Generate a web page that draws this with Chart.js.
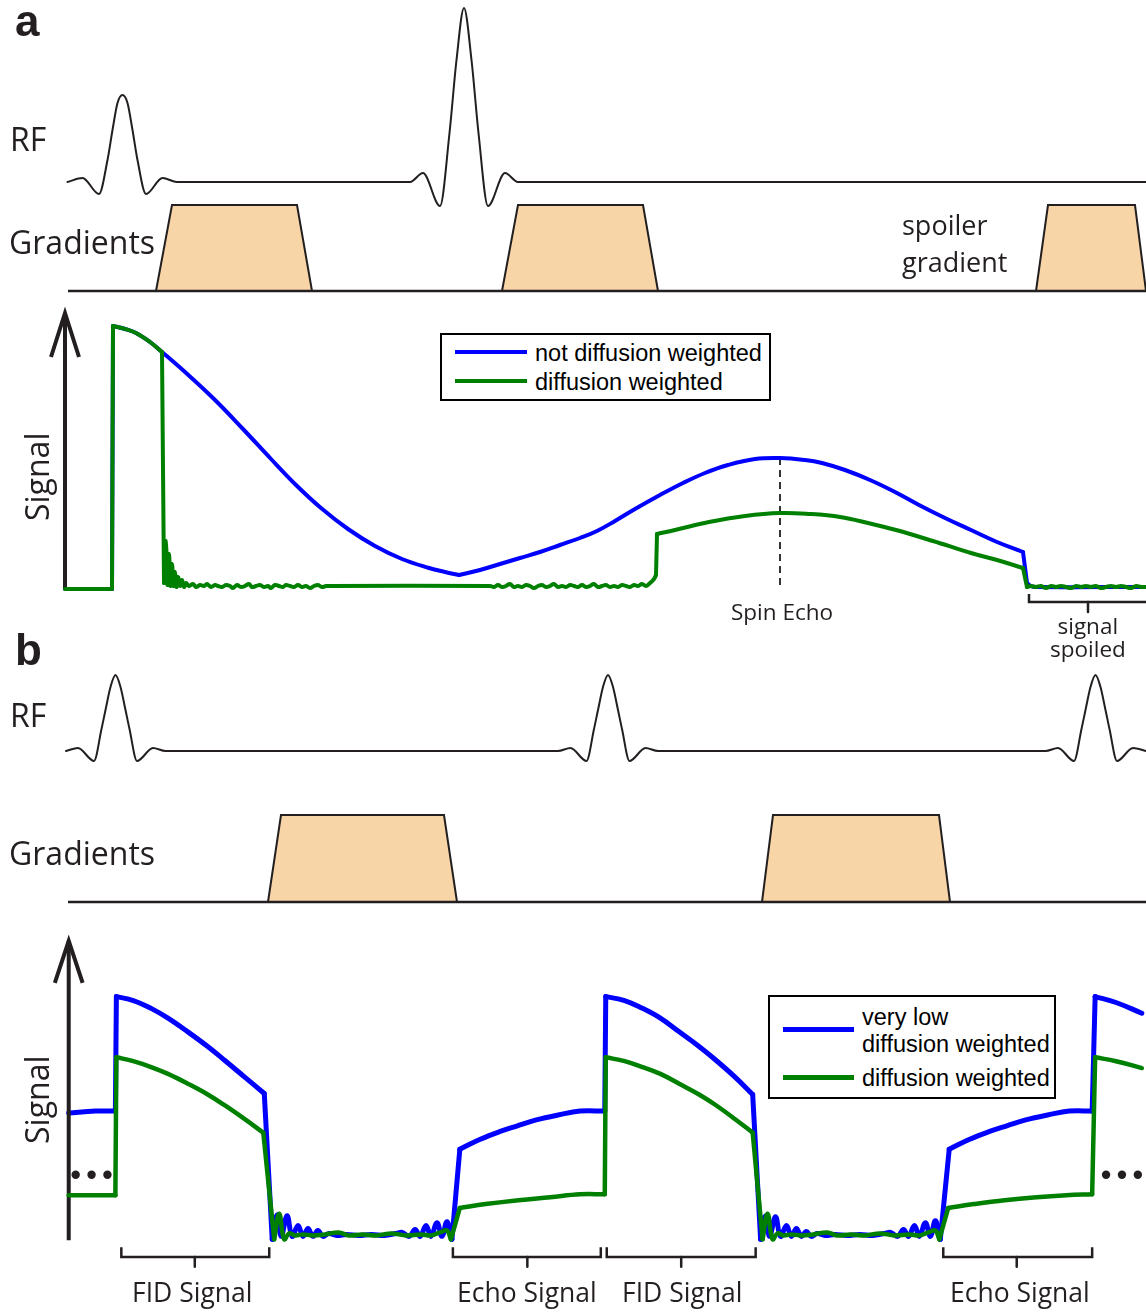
<!DOCTYPE html>
<html>
<head>
<meta charset="utf-8">
<script src="https://cdn.jsdelivr.net/npm/chart.js@4.4.1/dist/chart.umd.min.js"></script>
<style>
  html, body { margin: 0; padding: 0; background: #fff; }
  #fig { position: relative; width: 1146px; height: 1312px; overflow: hidden; }
  .strip { position: absolute; left: 0; }
  .lbl { position: absolute; white-space: nowrap; line-height: normal; color: #231f20;
         font-family: "Open Sans", sans-serif; }
  .key { position: absolute; box-sizing: border-box; border: 2px solid #000; background: #fff; }
  .swatch { position: absolute; }
</style>
</head>
<body>
<div id="fig"></div>
<script>
// time runs left to right, t = 0 sits on the signal axis
const T_MIN = -65, T_MAX = 1081;
// a third entry of 1 marks a sharp corner (jump / kink) in a trace

// ---- a: spin echo ----
// RF: 90 deg and 180 deg sinc pulses, [t, amplitude]
const rfA = [
  [2.5, 0], [17.5, 4], [34, -12], [42.5, 22], [47.5, 52], [52.5, 79], [57.5, 87],
  [62.5, 79], [67.5, 52], [72.5, 22], [81, -12], [97.5, 4], [112, 0],
  [345, 0], [358, 9], [375, -24], [384.5, 49], [391.5, 122], [399, 174],
  [406.5, 122], [413.5, 49], [423, -24], [440, 9], [453, 0], [1081, 0]
];
// gradient lobes, [t, amplitude]
const gradABase = [[3, 0], [1081, 0]];
const gradA1 = [[91, 0], [107, 86], [232, 86], [247, 0]];
const gradA2 = [[437, 0], [453, 86], [578, 86], [593, 0]];
const gradA3 = [[971, 0], [983, 86], [1070, 86], [1081, 0]];

// signal, not diffusion weighted
const sigA_plain = [
  [0, 0], [47, 0, 1], [48, 263, 1], [60, 260], [71, 256], [85, 247], [97, 237],
  [120, 217], [149, 190], [178, 160], [206, 130], [231, 104], [256, 81], [283, 60],
  [310, 43], [337, 30], [364, 21], [380, 17], [394, 14, 1], [415, 19], [435, 25],
  [455, 31], [475, 37], [495, 44], [515, 51], [532, 58], [550, 68], [570, 80],
  [595, 94], [618, 106], [640, 116], [663, 124], [690, 130], [715, 131], [740, 129],
  [757, 126], [780, 119], [805, 109], [830, 97], [854, 84], [880, 71], [906, 59],
  [932, 47], [958, 37, 1], [962, 6, 1], [966, 3], [970, 2], [1081, 2]
];
// signal, diffusion weighted (FID, dephased noise, weaker echo)
const sigA_dwFid = [
  [0, 0], [47, 0, 1], [48, 263, 1], [60, 260], [71, 256], [85, 247], [97, 237, 1], [99, 6, 1],
  [101, 48], [102.5, 4], [104, 35], [105.5, 3], [107, 25], [108.5, 3], [110, 17],
  [111.5, 2], [113, 12], [115, 3], [117, 9], [119, 2], [121, 6]
];
const sigA_dwNoise1 = [
  [124, 3], [128, 5], [131, 2], [135, 4], [139, 3], [142, 5], [146, 2], [150, 4],
  [153, 3], [157, 2], [161, 4], [165, 3], [168, 1], [172, 4], [176, 2], [180, 3],
  [184, 5], [187, 2], [191, 3], [195, 4], [199, 2], [203, 3], [206, 1], [210, 4],
  [214, 3], [218, 2], [221, 4], [225, 3], [229, 2], [233, 4], [237, 2], [241, 3],
  [245, 1], [249, 3], [253, 4], [257, 2], [261, 3], [265, 3]
];
const sigA_dwNoise2 = [
  [425, 3], [429, 2], [433, 4], [437, 2], [441, 3], [445, 5], [449, 2], [453, 3],
  [457, 2], [461, 4], [465, 3], [469, 1], [473, 3], [477, 4], [481, 2], [485, 3],
  [489, 5], [493, 2], [497, 3], [501, 2], [505, 4], [509, 3], [513, 2], [517, 4],
  [521, 2], [525, 3], [529, 5], [533, 2], [537, 3], [541, 4], [545, 2], [549, 3],
  [553, 2], [557, 4], [561, 3], [565, 2], [569, 4], [573, 3], [577, 5], [581, 3],
  [585, 6], [589, 10], [591, 14, 1]
];
const sigA_dwEcho = [
  [592, 55, 1], [610, 59], [644, 67], [680, 73], [715, 76], [745, 75], [775, 72],
  [803, 66], [831, 59], [868, 48], [906, 36], [932, 29], [958, 21, 1], [962, 2, 1]
];
const sigA_dwNoise3 = [
  [966, 3], [971, 2], [976, 3], [981, 1], [986, 3], [991, 2], [996, 3], [1001, 2],
  [1006, 1], [1011, 3], [1016, 2], [1021, 3], [1026, 2], [1031, 3], [1036, 1],
  [1041, 2], [1046, 3], [1051, 2], [1056, 3], [1061, 2], [1066, 1], [1071, 3],
  [1076, 2], [1081, 2]
];
const echoTimeA = 715;

// ---- b: steady state, FID and echo ----
const rfB = [
  [1, 0], [13, 3], [29, -10], [36.5, 22], [40.5, 41], [45.5, 64], [50.5, 76],
  [55.5, 64], [60.5, 41], [64.5, 22], [72, -10], [88, 3], [100.5, 0],
  [493, 0], [505.5, 3], [521.5, -10], [529, 22], [533, 41], [538, 64], [543, 76],
  [548, 64], [553, 41], [557, 22], [564.5, -10], [580.5, 3], [593, 0],
  [980.5, 0], [993, 3], [1009, -10], [1016.5, 22], [1020.5, 41], [1025.5, 64],
  [1030.5, 76], [1035.5, 64], [1040.5, 41], [1044.5, 22], [1052, -10], [1068, 3],
  [1081, 0]
];
const gradBBase = [[3, 0], [1081, 0]];
const gradB1 = [[203, 0], [216, 87], [379, 87], [392, 0]];
const gradB2 = [[697, 0], [708, 87], [874, 87], [885, 0]];

// very low diffusion weighting
const sigB_low = [
  [0, 127], [27, 129], [47, 129, 1], [48, 246, 1], [65, 242], [83, 234], [100, 224],
  [120, 210], [140, 195], [157, 181], [177, 164], [197, 147, 1], [205, -2, 1], [210, 23],
  [214, 1], [220, 22], [225, 1], [231, 12], [236, 1], [241, 9], [246, 1], [251, 7],
  [256, 1], [262, 4], [270, 2], [280, 3], [292, 2], [305, 3], [318, 2], [330, 4],
  [336, 5], [343, 1], [349, 8], [354, 1], [360, 12], [365, 1], [371, 15], [376, 1],
  [381, 16], [386, -2, 1], [394, 90, 1], [414, 100], [434, 108], [452, 114], [471, 120],
  [493, 125], [515, 129], [540, 129, 1], [541, 246, 1], [560, 242], [578, 234], [596, 224],
  [615, 210], [635, 195], [652, 181], [671, 164], [689, 146, 1], [697, -2, 1], [702, 22],
  [706, 1], [712, 21], [717, 1], [723, 12], [728, 1], [733, 9], [738, 1], [743, 6],
  [748, 1], [754, 4], [762, 2], [772, 3], [784, 2], [797, 3], [810, 2], [822, 4],
  [828, 5], [835, 1], [841, 8], [846, 1], [852, 12], [857, 1], [863, 15], [868, 1],
  [873, 17], [878, -2, 1], [887, 90, 1], [907, 100], [927, 108], [945, 114], [964, 120],
  [986, 125], [1008, 129], [1031, 129, 1], [1034, 246, 1], [1055, 240], [1081, 229]
];
// diffusion weighted
const sigB_dw = [
  [0, 43], [47, 43, 1], [48, 184, 1], [65, 180], [83, 174], [100, 167], [120, 157],
  [140, 146], [157, 135], [177, 121], [196, 107, 1], [207, -2, 1], [212, 24], [217, -2],
  [222, 4], [228, 2], [236, 3], [246, 2], [258, 3], [272, 5], [282, 2], [296, 3],
  [310, 2], [325, 4], [340, 2], [355, 3], [365, 2], [374, 5], [381, 7], [385, -2, 1],
  [394, 30, 1], [420, 34], [453, 38], [485, 41], [515, 44], [540, 44, 1], [541, 184, 1],
  [560, 180], [578, 174], [596, 167], [615, 157], [635, 146], [652, 135], [671, 121],
  [689, 107, 1], [699, -2, 1], [704, 24], [709, -2], [714, 4], [720, 2], [728, 3], [738, 2],
  [750, 3], [764, 5], [774, 2], [788, 3], [802, 2], [817, 4], [832, 2], [847, 3],
  [857, 2], [866, 5], [873, 7], [877, -2, 1], [886, 30, 1], [912, 34], [943, 38],
  [975, 41], [1005, 43], [1031, 44, 1], [1034, 184, 1], [1055, 180], [1081, 173]
];
// readout windows: [start, end, centre]
const windowsB = [[53, 202, 127], [387, 536, 462], [542, 692, 617], [881, 1031, 955]];
const windowLabelsB = ["FID Signal", "Echo Signal", "FID Signal", "Echo Signal"];

const INK = "#231f20", BLUE = "#0000ff", GREEN = "#008000", PEACH = "#f8d5a6";
const fig = document.getElementById("fig");

function pts(list) {
  return list.map(([x, y]) => ({ x, y }));
}

function line(list, color, width, extra) {
  return Object.assign({
    data: pts(list), borderColor: color, borderWidth: width, pointRadius: 0,
    fill: false, clip: false, tension: 0, borderJoinStyle: "round", borderCapStyle: "round"
  }, extra || {});
}

// smooth trace, broken into separate pieces at the marked corners
function trace(list, color, width, extra) {
  const pieces = [];
  let cur = [];
  list.forEach(p => {
    cur.push(p);
    if (p[2] && cur.length > 1) {
      pieces.push(cur);
      cur = [p];
    }
  });
  if (cur.length > 1) pieces.push(cur);
  return pieces.map(s => line(s, color, width, Object.assign({ tension: 0.4 }, extra || {})));
}

function pulse(list) {
  return line(list, INK, 2, { cubicInterpolationMode: "monotone" });
}

function lobe(list) {
  return line(list, INK, 2, { fill: { value: 0 }, backgroundColor: PEACH, borderJoinStyle: "miter", order: 2 });
}

function arrow(top, bottom, wing) {
  return [
    line([[0, bottom], [0, top]], INK, 4, { borderCapStyle: "butt" }),
    line([[-14, top - wing], [0, top], [14, top - wing]], INK, 4, { borderJoinStyle: "miter", borderCapStyle: "butt" })
  ];
}

function bracket(a, b, c, y0, y1, y2) {
  return [
    line([[a, y0], [a, y1], [b, y1], [b, y0]], INK, 2.5, { borderJoinStyle: "miter", borderCapStyle: "butt" }),
    line([[c, y1], [c, y2]], INK, 2.5, { borderCapStyle: "butt" })
  ];
}

// one horizontal strip of the sequence diagram
function strip(top, height, yMin, yMax, datasets) {
  const c = document.createElement("canvas");
  c.width = 1146;
  c.height = height;
  c.className = "strip";
  c.style.top = top + "px";
  fig.appendChild(c);
  new Chart(c, {
    type: "line",
    data: { datasets },
    options: {
      responsive: false,
      animation: false,
      events: [],
      layout: { padding: 0 },
      plugins: { legend: { display: false }, tooltip: { enabled: false } },
      scales: {
        x: { type: "linear", min: T_MIN, max: T_MAX, display: false },
        y: { type: "linear", min: yMin, max: yMax, display: false }
      }
    }
  });
}

function label(text, x, y, opt) {
  opt = opt || {};
  const el = document.createElement("div");
  el.className = "lbl";
  el.style.fontSize = (opt.size || 32) + "px";
  if (opt.family) el.style.fontFamily = opt.family;
  if (opt.weight) el.style.fontWeight = opt.weight;
  if (opt.color) el.style.color = opt.color;
  el.textContent = text;
  const probe = document.createElement("span");
  probe.style.cssText = "display:inline-block;width:0;height:0;vertical-align:baseline;";
  el.appendChild(probe);
  fig.appendChild(el);
  const base = probe.offsetTop;
  const w = el.offsetWidth;
  if (opt.rotate) {
    el.style.transformOrigin = "0px " + base + "px";
    el.style.transform = "rotate(-90deg)";
    el.style.left = x + "px";
    el.style.top = (y + w / 2 - base) + "px";
  } else {
    el.style.left = (opt.align === "center" ? x - w / 2 : x) + "px";
    el.style.top = (y - base) + "px";
  }
}

function key(left, top, width, height, rows) {
  const box = document.createElement("div");
  box.className = "key";
  Object.assign(box.style, { left: left + "px", top: top + "px", width: width + "px", height: height + "px" });
  fig.appendChild(box);
  rows.forEach(r => {
    const s = document.createElement("div");
    s.className = "swatch";
    Object.assign(s.style, { left: r.x + "px", top: r.y + "px", width: r.w + "px", height: r.h + "px", background: r.color });
    fig.appendChild(s);
  });
}

// ---- panel a ----
strip(0, 215, -33, 182, [pulse(rfA)]);
strip(195, 105, -9, 96, [
  line(gradABase, INK, 2.5, { order: 0, borderCapStyle: "butt" }),
  lobe(gradA1), lobe(gradA2), lobe(gradA3)
]);
strip(300, 340, -51, 289, [
  ...trace(sigA_dwFid.concat(sigA_dwNoise1, sigA_dwNoise2, sigA_dwEcho, sigA_dwNoise3), GREEN, 4, { order: 0 }),
  ...trace(sigA_plain, BLUE, 4, { order: 1 }),
  line([[echoTimeA, 131], [echoTimeA, -1]], "#333", 2, { borderDash: [7, 5], borderCapStyle: "butt", order: 2 }),
  ...arrow(276, -1, 44),
  ...bracket(964, 1084, 1023, -5, -13, -23)
]);

// ---- panel b ----
strip(640, 140, -29, 111, [pulse(rfB)]);
strip(780, 130, -8, 122, [
  line(gradBBase, INK, 2.5, { order: 0, borderCapStyle: "butt" }),
  lobe(gradB1), lobe(gradB2)
]);
strip(920, 392, -72, 320, [
  ...trace(sigB_dw, GREEN, 4.5, { order: 0 }),
  ...trace(sigB_low, BLUE, 5, { order: 1 }),
  ...arrow(303, -3, 43),
  ...windowsB.flatMap(([a, b, c]) => bracket(a, b, c, -10, -20, -30)),
  line([[7, 64], [23, 64], [39, 64], [1045, 64], [1061, 64], [1077, 64]], INK, 0,
    { showLine: false, pointRadius: 4.2, pointBackgroundColor: INK, pointBorderWidth: 0 })
]);

// ---- text ----
const HELV = '"Liberation Sans", Arial, sans-serif';
label("a", 15, 36, { size: 44, family: HELV, weight: "bold" });
label("RF", 10, 151);
label("Gradients", 9, 254);
label("spoiler", 902, 235, { size: 27 });
label("gradient", 902, 272, { size: 27 });
label("Signal", 49, 477, { rotate: true });
label("Spin Echo", 782, 620, { size: 22.5, align: "center" });
label("signal", 1088, 634, { size: 22.5, align: "center" });
label("spoiled", 1088, 657, { size: 22.5, align: "center" });

label("b", 15, 665, { size: 44, family: HELV, weight: "bold" });
label("RF", 10, 727);
label("Gradients", 9, 865);
label("Signal", 49, 1100, { rotate: true });
windowsB.forEach(([a, b, c], i) => label(windowLabelsB[i], c + 65, 1302, { size: 26.5, align: "center" }));

key(440, 333, 331, 68, [
  { x: 455, y: 350, w: 72, h: 4, color: BLUE },
  { x: 455, y: 379, w: 72, h: 4, color: GREEN }
]);
label("not diffusion weighted", 535, 361, { size: 23.5, family: HELV, color: "#000" });
label("diffusion weighted", 535, 390, { size: 23.5, family: HELV, color: "#000" });

key(768, 995, 288, 104, [
  { x: 783, y: 1027, w: 71, h: 5, color: BLUE },
  { x: 783, y: 1075, w: 71, h: 5, color: GREEN }
]);
label("very low", 862, 1025, { size: 23.5, family: HELV, color: "#000" });
label("diffusion weighted", 862, 1052, { size: 23.5, family: HELV, color: "#000" });
label("diffusion weighted", 862, 1086, { size: 23.5, family: HELV, color: "#000" });
</script>
</body>
</html>
